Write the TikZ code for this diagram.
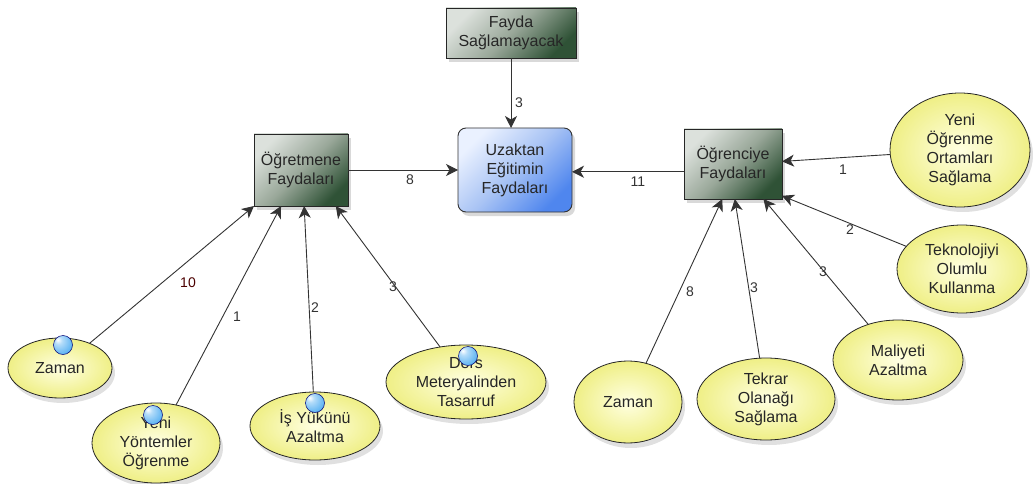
\documentclass[tikz,border=0pt]{standalone}
\usepackage{fontspec}
\setmainfont{Liberation Sans}
\usetikzlibrary{shapes.geometric,arrows.meta,shadows}
\definecolor{boxlight}{HTML}{DCE1DC}
\definecolor{boxmid}{HTML}{9AA89A}
\definecolor{boxdark}{HTML}{2F5236}
\definecolor{bluelight}{HTML}{EAF1FF}
\definecolor{bluemid}{HTML}{A8C3F4}
\definecolor{bluedark}{HTML}{4F86EE}
\definecolor{ellinner}{HTML}{FFFFE2}
\definecolor{ellouter}{HTML}{EFEF86}
\definecolor{ballblue}{HTML}{5AB2F2}
\pgfdeclareradialshading{glassball}{\pgfpoint{-14bp}{14bp}}{color(0bp)=(white);
  color(10bp)=(ballblue!45!white); color(34bp)=(ballblue); color(52bp)=(ballblue!75!blue);
  color(80bp)=(ballblue!75!blue)}
\begin{document}
\begin{tikzpicture}[x=1pt,y=-1pt,inner sep=0pt,outer sep=0pt,
font=\fontsize{16}{19}\selectfont,text=black!85,
greybox/.style={draw=black!85,rectangle,align=center,line width=0.9pt,
  top color=boxlight,bottom color=boxdark,middle color=boxmid,shading angle=45,
  drop shadow={shadow xshift=3pt,shadow yshift=-4pt,opacity=0.15,fill=black}},
bluebox/.style={draw=black!80,rectangle,rounded corners=8pt,align=center,line width=0.9pt,
  top color=bluelight,bottom color=bluedark,middle color=bluemid,shading angle=45,
  drop shadow={shadow xshift=3pt,shadow yshift=-4pt,opacity=0.15,fill=black}},
benefit/.style={draw=black!85,ellipse,align=center,line width=0.8pt,
  inner color=ellinner,outer color=ellouter,
  drop shadow={shadow xshift=3pt,shadow yshift=-5pt,opacity=0.12,fill=black}},
ballmark/.style={circle,minimum size=19pt,draw=blue!45!black,line width=0.5pt,shading=glassball},
link/.style={draw=black!80,line width=0.9pt,-{Stealth[length=12pt,width=12pt,inset=3.5pt]}},
lbl/.style={font=\fontsize{14}{16}\selectfont,text=black!80}]
\useasboundingbox (0,0) rectangle (1033,484);

% central boxes
\node[bluebox,minimum width=114pt,minimum height=84pt] (uE) at (515,170) {Uzaktan\\Eğitimin\\Faydaları};
\node[greybox,minimum width=130pt,minimum height=50pt] (fS) at (511,33) {Fayda\\Sağlamayacak};
\node[greybox,minimum width=94pt,minimum height=72pt] (oF) at (301,170) {Öğretmene\\Faydaları};
\node[greybox,minimum width=98pt,minimum height=70pt] (oR) at (733,164) {Öğrenciye\\Faydaları};

% teacher side
\node[benefit,minimum width=104pt,minimum height=60pt] (zL) at (60,368) {Zaman};
\node[benefit,minimum width=128pt,minimum height=80pt] (yY) at (156,443) {Yeni\\Yöntemler\\Öğrenme};
\node[benefit,minimum width=130pt,minimum height=68pt] (iY) at (315,426) {İş Yükünü\\Azaltma};
\node[benefit,minimum width=160pt,minimum height=74pt] (dM) at (466,382) {Ders\\Meteryalinden\\Tasarruf};

\node[ballmark] (bZ) at (63,345) {};
\node[ballmark] (bY) at (153,415) {};
\node[ballmark] (bI) at (315,403) {};
\node[ballmark] (bD) at (468,356) {};

% student side
\node[benefit,minimum width=140pt,minimum height=114pt] (yO) at (960,150) {Yeni\\Öğrenme\\Ortamları\\Sağlama};
\node[benefit,minimum width=130pt,minimum height=88pt] (tO) at (962,269) {Teknolojiyi\\Olumlu\\Kullanma};
\node[benefit,minimum width=130pt,minimum height=80pt] (mA) at (898,360) {Maliyeti\\Azaltma};
\node[benefit,minimum width=138pt,minimum height=82pt] (tS) at (766,399) {Tekrar\\Olanağı\\Sağlama};
\node[benefit,minimum width=108pt,minimum height=82pt] (zR) at (628,402) {Zaman};

% connectors
\draw[link] (zL) -- (oF.south west);
\draw[link] (yY) -- (oF.241);
\draw[link] (iY) -- (oF.275);
\draw[link] (dM) -- (oF.314);
\draw[link] (oF.east) -- (uE.west);
\draw[link] (fS.south) -- (fS.south |- uE.north);
\draw[link] (oR.189) -- (oR.189 -| uE.east);
\draw[link] (yO) -- (oR.3);
\draw[link] (tO) -- (oR.327);
\draw[link] (mA) -- (oR.311);
\draw[link] (tS) -- (oR.273);
\draw[link] (zR) -- (oR.253);

% counts
\node[lbl,text=red!30!black] (n10) at (188,283) {10};
\node[lbl] (n1) at (237,317) {1};
\node[lbl] (n2) at (315,308) {2};
\node[lbl] (n3) at (393,287) {3};
\node[lbl] (n8) at (410,180) {8};
\node[lbl] (n3f) at (519,103) {3};
\node[lbl] (n11) at (638,182) {11};
\node[lbl] (n1o) at (843,170) {1};
\node[lbl] (n2t) at (850,230) {2};
\node[lbl] (n3m) at (823,272) {3};
\node[lbl] (n3t) at (754,288) {3};
\node[lbl] (n8z) at (690,292) {8};
\end{tikzpicture}
\end{document}
